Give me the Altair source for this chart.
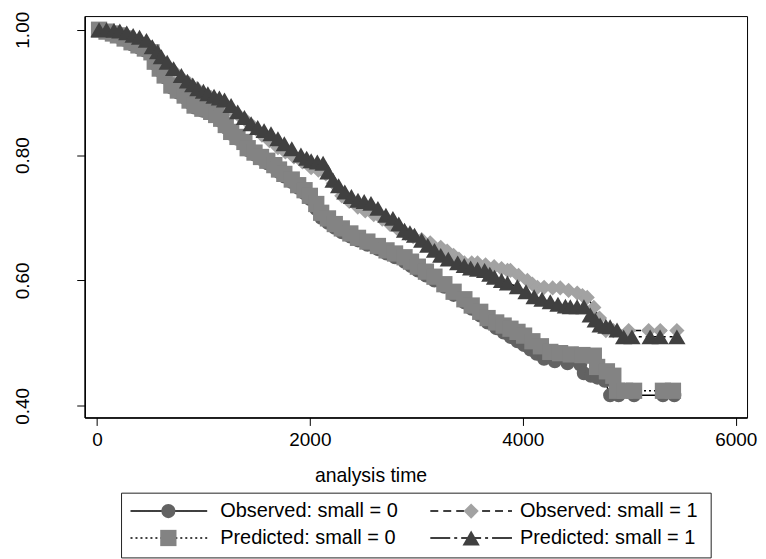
import altair as alt
import pandas as pd

# ---------------- data ----------------
series_names = ["Observed: small = 0", "Observed: small = 1",
                "Predicted: small = 0", "Predicted: small = 1"]

obs0_t = [20, 90, 150, 197, 260, 325, 390, 450, 512, 543, 590, 636, 699, 760, 824, 870, 917, 990,
          1073, 1120, 1167, 1210, 1261, 1320, 1385, 1416, 1480, 1541, 1600, 1666, 1710, 1760, 1830,
          1890, 1950, 2000, 2060, 2106, 2170, 2234, 2300, 2380, 2452, 2540, 2639, 2720, 2800, 2889,
          2950, 3014, 3090, 3170, 3263, 3350, 3451, 3520, 3600, 3669, 3750, 3820, 3884, 3950, 4012,
          4071, 4130, 4199, 4300, 4420, 4539, 4573, 4640, 4700, 4770, 4820, 4900, 5045, 5316, 5423]
obs0_s = [1.000, 0.996, 0.992, 0.989, 0.984, 0.977, 0.972, 0.967, 0.960, 0.946, 0.935, 0.924, 0.908,
          0.900, 0.892, 0.884, 0.876, 0.871, 0.866, 0.861, 0.854, 0.844, 0.834, 0.826, 0.818, 0.808,
          0.801, 0.794, 0.787, 0.780, 0.773, 0.766, 0.757, 0.748, 0.739, 0.730, 0.714, 0.700, 0.692,
          0.684, 0.677, 0.670, 0.664, 0.657, 0.650, 0.643, 0.637, 0.630, 0.623, 0.616, 0.608, 0.600,
          0.590, 0.577, 0.565, 0.555, 0.544, 0.533, 0.524, 0.517, 0.510, 0.503, 0.497, 0.490, 0.483,
          0.475, 0.471, 0.468, 0.466, 0.452, 0.448, 0.445, 0.440, 0.417, 0.417, 0.417, 0.417, 0.417]

obs1_t = [20, 100, 170, 240, 300, 350, 420, 500, 570, 650, 720, 800, 870, 940, 1000, 1070, 1130,
          1200, 1270, 1340, 1400, 1470, 1550, 1620, 1700, 1770, 1850, 1930, 2012, 2080, 2150, 2220,
          2300, 2370, 2450, 2520, 2600, 2680, 2750, 2820, 2900, 2970, 3050, 3130, 3229, 3290, 3350,
          3400, 3451, 3520, 3575, 3650, 3731, 3800, 3856, 3884, 3960, 4043, 4090, 4137, 4200, 4280,
          4352, 4430, 4511, 4560, 4605, 4667, 4720, 4780, 4850, 4994, 5182, 5291, 5447]
obs1_s = [1.000, 0.997, 0.994, 0.988, 0.982, 0.975, 0.970, 0.965, 0.956, 0.945, 0.934, 0.922, 0.914,
          0.906, 0.898, 0.892, 0.886, 0.878, 0.870, 0.862, 0.855, 0.845, 0.832, 0.823, 0.812, 0.805,
          0.797, 0.789, 0.780, 0.776, 0.770, 0.755, 0.735, 0.726, 0.717, 0.711, 0.705, 0.698, 0.690,
          0.683, 0.675, 0.670, 0.665, 0.660, 0.653, 0.647, 0.640, 0.634, 0.628, 0.628, 0.628, 0.625,
          0.622, 0.619, 0.616, 0.616, 0.608, 0.600, 0.594, 0.589, 0.589, 0.588, 0.588, 0.584, 0.580,
          0.576, 0.573, 0.557, 0.540, 0.520, 0.520, 0.520, 0.520, 0.520, 0.520]

pred0_t = [20, 90, 150, 197, 260, 325, 390, 450, 512, 543, 590, 636, 699, 760, 824, 870, 917, 990,
           1073, 1120, 1167, 1210, 1261, 1320, 1385, 1416, 1480, 1541, 1600, 1666, 1710, 1760, 1830,
           1890, 1950, 2000, 2060, 2106, 2170, 2234, 2300, 2380, 2452, 2540, 2639, 2720, 2800, 2889,
           2950, 3014, 3090, 3170, 3263, 3350, 3451, 3520, 3600, 3669, 3750, 3820, 3884, 3950, 4012,
           4090, 4170, 4258, 4350, 4450, 4560, 4667, 4698, 4790, 4850, 4885, 4960, 5045, 5316, 5410]
pred0_s = [1.000, 0.997, 0.994, 0.991, 0.986, 0.980, 0.975, 0.970, 0.964, 0.949, 0.938, 0.927, 0.911,
           0.903, 0.895, 0.887, 0.879, 0.874, 0.869, 0.864, 0.858, 0.848, 0.837, 0.829, 0.821, 0.811,
           0.804, 0.797, 0.791, 0.784, 0.777, 0.770, 0.761, 0.752, 0.744, 0.735, 0.722, 0.708, 0.699,
           0.690, 0.683, 0.675, 0.668, 0.662, 0.655, 0.648, 0.643, 0.637, 0.630, 0.622, 0.614, 0.606,
           0.594, 0.582, 0.570, 0.560, 0.550, 0.540, 0.533, 0.528, 0.523, 0.518, 0.512, 0.503, 0.495,
           0.486, 0.484, 0.482, 0.481, 0.480, 0.462, 0.455, 0.448, 0.424, 0.424, 0.424, 0.424, 0.424]

pred1_t = [20, 90, 160, 215, 280, 340, 400, 465, 520, 570, 605, 660, 720, 793, 850, 900, 948, 1000,
           1042, 1100, 1150, 1198, 1260, 1322, 1385, 1448, 1510, 1570, 1635, 1700, 1760, 1830, 1916,
           1970, 2012, 2070, 2124, 2170, 2218, 2270, 2328, 2390, 2452, 2510, 2574, 2639, 2714, 2780,
           2835, 2889, 2940, 2983, 3050, 3107, 3170, 3229, 3300, 3388, 3450, 3510, 3575, 3641, 3690,
           3734, 3800, 3856, 3949, 4030, 4106, 4180, 4258, 4330, 4400, 4446, 4510, 4574, 4633, 4680,
           4726, 4780, 4820, 4885, 4947, 5025, 5196, 5289, 5447]
pred1_s = [1.000, 1.000, 0.999, 0.998, 0.995, 0.991, 0.988, 0.983, 0.973, 0.965, 0.957, 0.948, 0.938,
           0.927, 0.918, 0.912, 0.906, 0.902, 0.898, 0.894, 0.891, 0.888, 0.879, 0.869, 0.860, 0.850,
           0.844, 0.839, 0.834, 0.826, 0.818, 0.810, 0.800, 0.795, 0.791, 0.789, 0.787, 0.773, 0.760,
           0.751, 0.741, 0.734, 0.728, 0.726, 0.723, 0.715, 0.704, 0.699, 0.690, 0.680, 0.676, 0.672,
           0.664, 0.656, 0.648, 0.640, 0.634, 0.628, 0.624, 0.620, 0.618, 0.616, 0.610, 0.605, 0.600,
           0.596, 0.590, 0.582, 0.574, 0.570, 0.566, 0.562, 0.559, 0.558, 0.558, 0.558, 0.545, 0.537,
           0.529, 0.527, 0.526, 0.521, 0.510, 0.510, 0.510, 0.510, 0.510]

x_ticks = [0, 2000, 4000, 6000]
y_ticks = [0.4, 0.6, 0.8, 1.0]

# ---------------- styles ----------------
FONT = "Liberation Sans"
shapes = ["circle", "diamond", "square", "triangle-up"]
fills = ["#626262", "#a2a2a2", "#838383", "#404040"]
sizes = [200, 300, 200, 235]
dashes = [[1, 0], [8, 5], [2, 3], [20, 4, 3, 4]]

rows = []
for name, ts, ss in zip(series_names, [obs0_t, obs1_t, pred0_t, pred1_t],
                        [obs0_s, obs1_s, pred0_s, pred1_s]):
    for t, s in zip(ts, ss, strict=True):
        rows.append({"series": name, "t": t, "s": s})
df = pd.DataFrame(rows)

shape_scale = alt.Scale(domain=series_names, range=shapes)
color_scale = alt.Scale(domain=series_names, range=fills)
size_scale = alt.Scale(domain=series_names, range=sizes)
dash_scale = alt.Scale(domain=series_names, range=dashes)

xscale = alt.Scale(domain=[-115, 6106], nice=False, zero=False)
yscale = alt.Scale(domain=[0.3814, 1.0218], nice=False, zero=False)

xaxis = alt.Axis(values=x_ticks, title="analysis time", grid=False, tickSize=8,
                 labelPadding=5, labelFontSize=19, titleFontSize=19.5, titleFontWeight="normal",
                 titleX=287, titleY=64, titleBaseline="alphabetic", titleAnchor="start",
                 titleAlign="center", labelFlush=False, format="d")
yaxis = alt.Axis(values=y_ticks, title=None, grid=False, tickSize=8, format=".2f",
                 labelAngle=270, labelAlign="center", labelBaseline="middle",
                 labelPadding=54, labelFontSize=19, labelFlush=False)

base = alt.Chart(df).encode(
    x=alt.X("t:Q", scale=xscale, axis=xaxis),
    y=alt.Y("s:Q", scale=yscale, axis=yaxis),
)
lines = base.mark_line(color="black", strokeWidth=1.5).encode(
    detail="series:N",
    strokeDash=alt.StrokeDash("series:N", scale=dash_scale, legend=None),
    order="t:Q",
)
points = base.mark_point(filled=True, opacity=1, strokeWidth=0).encode(
    shape=alt.Shape("series:N", scale=shape_scale, legend=None),
    color=alt.Color("series:N", scale=color_scale, legend=None),
    size=alt.Size("series:N", scale=size_scale, legend=None),
)
main = alt.layer(lines, points).properties(
    width=665, height=403,
    view=alt.ViewBackground(stroke="black", strokeWidth=1),
)

# ---------------- legend panel ----------------
leg = pd.DataFrame({
    "series": series_names,
    "x0": [46, 347, 46, 347],
    "x1": [123, 429, 123, 429],
    "mx": [84, 388, 84, 388],
    "tx": [136, 437, 136, 437],
    "ry": [18, 18, 45, 45],
})
lx = alt.Scale(domain=[0, 629], nice=False, zero=False)
ly = alt.Scale(domain=[0, 66], nice=False, zero=False, reverse=True)
lbase = alt.Chart(leg)
box = alt.Chart(pd.DataFrame({"k": [0]})).mark_rect(
    fill="white", stroke="#222222", strokeWidth=1
).encode(x=alt.value(37), x2=alt.value(629), y=alt.value(0), y2=alt.value(65))
lrules = lbase.mark_rule(color="black", strokeWidth=1.5).encode(
    x=alt.X("x0:Q", scale=lx, axis=None), x2="x1:Q",
    y=alt.Y("ry:Q", scale=ly, axis=None),
    strokeDash=alt.StrokeDash("series:N", scale=dash_scale, legend=None),
)
lpoints = lbase.mark_point(filled=True, opacity=1, strokeWidth=0).encode(
    x=alt.X("mx:Q", scale=lx, axis=None),
    y=alt.Y("ry:Q", scale=ly, axis=None),
    shape=alt.Shape("series:N", scale=shape_scale, legend=None),
    color=alt.Color("series:N", scale=color_scale, legend=None),
    size=alt.Size("series:N", scale=size_scale, legend=None),
)
ltext = lbase.mark_text(align="left", baseline="middle", fontSize=20, font=FONT,
                        color="black").encode(
    x=alt.X("tx:Q", scale=lx, axis=None),
    y=alt.Y("ry:Q", scale=ly, axis=None),
    text="series:N",
)
legend = alt.layer(box, lrules, lpoints, ltext).properties(
    width=629, height=66,
    view=alt.ViewBackground(stroke="transparent"),
)

chart = alt.vconcat(main, legend, spacing=7).properties(
    padding={"left": 5, "top": 1, "right": 0, "bottom": 0},
    background="white",
).configure_axis(
    labelFont=FONT, titleFont=FONT, labelColor="black", titleColor="black",
    tickColor="black", domainColor="black", domainWidth=1.5, tickWidth=1,
).configure_concat(spacing=7)

chart.save("out.html", embed_options={"renderer": "svg", "actions": False})
